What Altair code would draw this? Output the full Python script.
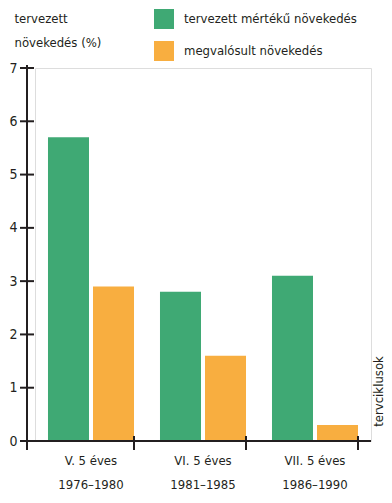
import altair as alt
import pandas as pd

plan_names = ["V. 5 éves", "VI. 5 éves", "VII. 5 éves"]
plan_years = ["1976–1980", "1981–1985", "1986–1990"]
series = ["tervezett mértékű növekedés", "megvalósult növekedés"]
planned = [5.7, 2.8, 3.1]
actual = [2.9, 1.6, 0.3]
y_ticks = [0, 1, 2, 3, 4, 5, 6, 7]
colors = ["#3fa974", "#f8ae40"]

FONT = "DejaVu Sans Condensed, Liberation Sans Narrow, sans-serif"
INK = "#231f20"
FS = 13

cats = [f"{n}\n{y}" for n, y in zip(plan_names, plan_years)]
rows = []
for i, c in enumerate(cats):
    rows.append({"cat": c, "series": series[0], "value": planned[i]})
    rows.append({"cat": c, "series": series[1], "value": actual[i]})
df = pd.DataFrame(rows)
cat_df = pd.DataFrame({"cat": cats})
tick_df = pd.DataFrame({"v": y_ticks})
one = pd.DataFrame({"a": [0]})

xscale = alt.Scale(domain=cats, paddingInner=0.232, paddingOuter=0.116)
yscale = alt.Scale(domain=[0, 7], nice=False, zero=True)

bars = alt.Chart(df).mark_bar().encode(
    x=alt.X("cat:N", scale=xscale, sort=cats,
            axis=alt.Axis(title="tervciklusok", labelAngle=0, domain=False, ticks=False,
                          labelExpr="split(datum.value, '\\n')", labelLineHeight=24,
                          labelPadding=13, labelFontSize=FS, labelFont=FONT, labelColor=INK,
                          labelLimit=200,
                          titleAngle=270, titleX=343, titleY=-50, titleAlign="center",
                          titleBaseline="middle", titleFontSize=FS, titleFontWeight="normal",
                          titleFont=FONT, titleColor=INK)),
    xOffset=alt.XOffset("series:N", sort=series,
                        scale=alt.Scale(domain=series, paddingInner=0.089, paddingOuter=0)),
    y=alt.Y("value:Q", scale=yscale,
            axis=alt.Axis(values=y_ticks, format="d", title=["tervezett", "növekedés (%)"],
                          grid=False, domain=False, ticks=False, labelPadding=18,
                          labelFontSize=14, labelFont=FONT, labelColor=INK,
                          titleAngle=0, titleX=-21, titleY=-46, titleAlign="left",
                          titleBaseline="alphabetic", titleLineHeight=24, titleFontSize=FS,
                          titleFontWeight="normal", titleFont=FONT, titleColor=INK)),
    color=alt.Color("series:N", sort=series,
                    scale=alt.Scale(domain=series, range=colors),
                    legend=alt.Legend(title=None, orient="none", legendX=119, legendY=-59,
                                      symbolType="square", symbolSize=400, symbolStrokeWidth=0,
                                      symbolOpacity=1, labelOffset=10, rowPadding=12, padding=0,
                                      labelFontSize=FS, labelFont=FONT, labelColor=INK,
                                      labelLimit=300)),
)

yaxis_line = alt.Chart(one).mark_rule(color=INK, strokeWidth=2).encode(
    x=alt.value(-8), y=alt.value(-3), y2=alt.value(382))
xaxis_line = alt.Chart(one).mark_rule(color=INK, strokeWidth=2).encode(
    x=alt.value(-15), x2=alt.value(336), y=alt.value(373))
yticks = alt.Chart(tick_df).mark_rule(color=INK, strokeWidth=2).encode(
    y=alt.Y("v:Q", scale=yscale), x=alt.value(-15), x2=alt.value(-1))
xticks = alt.Chart(cat_df).mark_rule(color=INK, strokeWidth=2).encode(
    x=alt.X("cat:N", scale=xscale, sort=cats, bandPosition=1),
    y=alt.value(368), y2=alt.value(382))

chart = alt.layer(bars, yaxis_line, xaxis_line, yticks, xticks).properties(
    width=336, height=373,
    padding={"left": 27, "top": 60, "right": 13, "bottom": 54},
    autosize=alt.AutoSizeParams(type="none"),
).configure_view(stroke=None).configure(font=FONT)

chart.save("out.html", embed_options={"renderer": "svg", "actions": False})
